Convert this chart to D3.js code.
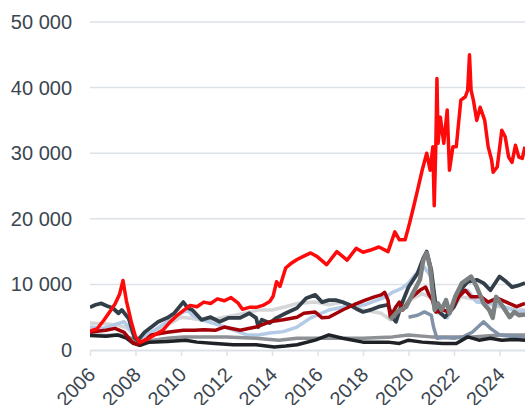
<!doctype html>
<html lang="en">
<head>
<meta charset="utf-8">
<style>
  body { margin: 0; background: #fff; }
  text { font-family: "Liberation Sans", Arial, sans-serif; fill: #3b4650; }
</style>
</head>
<body>
<div id="grafico"></div>
<script src="https://d3js.org/d3.v7.min.js"></script>
<script>

// each series: [year, value]
var rojo = [[2006.0,2900],[2006.3,3200],[2006.6,4500],[2006.9,6000],[2007.1,7000],[2007.3,8500],[2007.45,10600],[2007.6,7500],[2007.8,4500],[2008.0,2000],[2008.2,1200],[2008.5,1600],[2008.8,2200],[2009.2,3000],[2009.5,4200],[2009.8,5200],[2010.1,6000],[2010.4,6800],[2010.7,6600],[2011.0,7300],[2011.3,7100],[2011.6,7800],[2011.9,7500],[2012.2,8000],[2012.5,7200],[2012.7,6200],[2013.0,6500],[2013.3,6500],[2013.6,6800],[2013.9,7400],[2014.05,8200],[2014.2,10400],[2014.35,9700],[2014.6,12500],[2014.8,13100],[2015.1,13800],[2015.4,14300],[2015.7,14800],[2016.0,14200],[2016.4,13000],[2016.85,15000],[2017.3,13700],[2017.7,15500],[2018.0,14900],[2018.3,15200],[2018.7,15700],[2019.1,15000],[2019.4,18000],[2019.6,16800],[2019.85,16800],[2020.0,18700],[2020.2,21500],[2020.4,24400],[2020.6,27400],[2020.8,30000],[2020.95,27400],[2021.07,31000],[2021.13,22000],[2021.2,31000],[2021.25,41400],[2021.3,31500],[2021.4,35500],[2021.55,31500],[2021.7,36600],[2021.8,27400],[2021.95,31000],[2022.1,31000],[2022.3,38100],[2022.5,38600],[2022.6,39600],[2022.68,45000],[2022.75,39600],[2022.85,38100],[2023.0,35000],[2023.15,37000],[2023.35,35000],[2023.5,31000],[2023.65,29000],[2023.72,27100],[2023.9,27900],[2024.1,33500],[2024.25,32500],[2024.4,29400],[2024.55,28600],[2024.7,31200],[2024.85,29400],[2025.0,29200],[2025.12,31000]];

var azul_oscuro = [[2006.0,6500],[2006.25,6900],[2006.5,7100],[2006.75,6700],[2007.0,6400],[2007.25,5600],[2007.4,6100],[2007.7,4800],[2007.95,1900],[2008.1,1500],[2008.4,2700],[2008.7,3500],[2009.0,4300],[2009.4,4900],[2009.7,5600],[2010.1,7300],[2010.3,6400],[2010.5,6100],[2010.9,4600],[2011.3,5000],[2011.7,4300],[2012.1,4900],[2012.6,4900],[2013.0,5600],[2013.3,4900],[2013.4,3500],[2013.55,4600],[2013.9,4100],[2014.2,4900],[2014.6,5600],[2015.1,6400],[2015.5,7900],[2015.9,8400],[2016.2,7300],[2016.5,7600],[2016.8,7600],[2017.1,7300],[2017.4,6900],[2017.7,6300],[2018.0,5800],[2018.4,6200],[2018.7,6600],[2019.1,6900],[2019.3,4900],[2019.45,4300],[2019.7,7000],[2020.0,9600],[2020.4,11700],[2020.65,14000],[2020.8,15000],[2021.0,12200],[2021.2,6600],[2021.35,5800],[2021.6,5000],[2022.0,6600],[2022.4,9600],[2022.6,10400],[2023.0,10700],[2023.3,10200],[2023.6,9100],[2024.0,11200],[2024.3,10400],[2024.55,9600],[2024.8,9800],[2025.12,10200]];

var rojo_oscuro = [[2006.0,2700],[2006.4,2900],[2006.7,3000],[2007.1,3300],[2007.5,2700],[2007.85,1200],[2008.1,800],[2008.5,1700],[2008.7,2300],[2009.4,2700],[2010.1,3000],[2010.6,3000],[2011.0,3100],[2011.5,3000],[2011.9,3500],[2012.6,3000],[2013.3,3500],[2013.9,4300],[2014.5,4600],[2015.1,5000],[2015.4,5600],[2015.9,5800],[2016.2,4900],[2016.5,5000],[2017.1,6100],[2017.6,6900],[2018.1,7600],[2018.5,8100],[2018.8,8400],[2018.95,8800],[2019.1,7600],[2019.2,5000],[2019.45,6600],[2019.6,7300],[2019.75,6100],[2020.1,7900],[2020.5,9100],[2020.75,9600],[2020.9,8400],[2021.05,7600],[2021.2,5800],[2021.5,6100],[2021.8,5800],[2022.2,8100],[2022.5,9100],[2022.75,8100],[2023.2,8100],[2023.5,7300],[2023.9,7900],[2024.3,7300],[2024.75,6600],[2025.12,7100]];

var celeste = [[2006.0,3500],[2006.6,3300],[2007.0,3800],[2007.5,4300],[2007.8,3000],[2008.1,1500],[2008.7,2700],[2009.4,4300],[2010.0,5600],[2010.3,6100],[2010.5,5300],[2010.9,4600],[2011.5,4000],[2012.1,3300],[2012.9,2300],[2013.4,2300],[2013.9,2600],[2014.5,2800],[2015.1,3500],[2015.7,4900],[2016.5,6100],[2017.2,6600],[2018.1,6900],[2019.0,8100],[2019.3,8800],[2019.7,9400],[2020.0,10200],[2020.4,11900],[2020.7,12600],[2021.0,11100],[2021.25,6100],[2021.7,4900],[2022.2,8700],[2022.6,9100],[2023.0,7300],[2023.6,7100],[2024.2,6600],[2024.8,5800],[2025.12,6000]];

var gris_claro = [[2006.0,4100],[2006.6,4000],[2007.2,3800],[2007.6,3400],[2007.9,2500],[2008.15,1500],[2008.7,2500],[2009.4,3800],[2010.0,5000],[2010.5,4800],[2011.0,4500],[2011.6,4800],[2012.2,5200],[2012.8,5600],[2013.4,6100],[2014.0,6100],[2014.6,6600],[2015.1,7100],[2015.9,7300],[2016.5,6900],[2017.1,7300],[2018.0,6100],[2018.8,5600],[2019.2,4600],[2019.6,6600],[2020.0,7500],[2020.6,8600],[2021.0,8000],[2021.3,5600],[2021.7,5000],[2022.3,8100],[2022.8,7800],[2023.5,7000],[2024.0,6600],[2024.6,6300],[2025.12,6100]];

var gris_medio = [[2006.0,2300],[2006.7,2200],[2007.3,2300],[2007.8,1800],[2008.15,800],[2008.6,1400],[2009.4,1800],[2010.1,2000],[2011.0,2000],[2012.0,2000],[2013.3,1800],[2014.3,1500],[2015.1,1800],[2016.5,1800],[2018.0,1800],[2019.3,2000],[2020.0,2300],[2021.0,2000],[2022.0,2000],[2022.8,2000],[2024.0,2300],[2025.12,2300]];

var pizarra = [[2020.0,5000],[2020.4,5300],[2020.7,5800],[2021.0,5300],[2021.1,3500],[2021.25,1800],[2021.6,1900],[2022.0,1800],[2022.4,2000],[2022.8,2700],[2023.3,4300],[2023.6,3300],[2024.0,2300],[2024.5,2100],[2025.12,2000]];

var gris_oscuro = [[2019.2,4600],[2019.5,5800],[2019.9,6600],[2020.2,8700],[2020.5,10700],[2020.65,13700],[2020.8,14800],[2020.95,12600],[2021.05,9100],[2021.15,6100],[2021.3,7100],[2021.45,6100],[2021.65,7600],[2021.8,5600],[2022.05,8100],[2022.35,10200],[2022.75,11200],[2023.0,9600],[2023.3,7100],[2023.55,6100],[2023.7,4900],[2023.85,8100],[2024.15,6600],[2024.45,5000],[2024.65,5800],[2024.85,5300],[2025.12,5400]];

var negro = [[2006.0,2200],[2006.7,2100],[2007.2,2300],[2007.6,1800],[2007.9,1000],[2008.2,700],[2008.6,1200],[2009.4,1300],[2010.2,1500],[2010.7,1200],[2011.5,1000],[2012.3,800],[2013.3,800],[2014.1,450],[2014.6,600],[2015.1,800],[2015.9,1500],[2016.5,2300],[2017.1,1800],[2018.0,1200],[2019.1,1200],[2019.6,1000],[2020.0,1500],[2020.6,1200],[2021.5,1000],[2022.1,1000],[2022.6,2000],[2023.1,1500],[2023.6,1800],[2024.1,1500],[2024.7,1600],[2025.12,1500]];

var anios = [2006, 2008, 2010, 2012, 2014, 2016, 2018, 2020, 2022, 2024];
var valoresY = [0, 10000, 20000, 30000, 40000, 50000];

// orden de dibujo: de atras hacia adelante
var series = [
  {datos: gris_claro, color: "#d4d6d8", grosor: 3.5},
  {datos: celeste, color: "#b3cbe6", grosor: 3.5},
  {datos: gris_medio, color: "#8d9094", grosor: 3.5},
  {datos: pizarra, color: "#8192a8", grosor: 3.5},
  {datos: negro, color: "#1e2227", grosor: 3.5},
  {datos: azul_oscuro, color: "#323e48", grosor: 3.8},
  {datos: rojo_oscuro, color: "#a30008", grosor: 3.5},
  {datos: gris_oscuro, color: "#7d8080", grosor: 4.5},
  {datos: rojo, color: "#ff0a0a", grosor: 3.5}
];

var ancho = 525, alto = 405;
var margen = {izq: 90, der: 0, arriba: 22, abajo: 55};

var svg = d3.select("#grafico").append("svg").attr("width", ancho).attr("height", alto);

var x = d3.scaleLinear().domain([2006, 2025.12]).range([margen.izq, ancho - margen.der]);
var y = d3.scaleLinear().domain([0, 50000]).range([alto - margen.abajo, margen.arriba]);

var fmt = function(d){ return d3.format(",")(d).replace(/,/g, " "); };

// grilla
svg.append("g").selectAll("line").data(valoresY.filter(function(d){ return d > 0; })).enter().append("line")
  .attr("x1", margen.izq).attr("x2", ancho).attr("y1", function(d){ return y(d); }).attr("y2", function(d){ return y(d); })
  .attr("stroke", "#dde2e8").attr("stroke-width", 1.5);

// eje y
var ejeY = svg.append("g").attr("transform", "translate(" + margen.izq + ",0)")
  .call(d3.axisLeft(y).tickValues(valoresY).tickFormat(fmt).tickSize(0).tickPadding(18));
ejeY.select(".domain").remove();
ejeY.selectAll("text").style("font-size", "20px").attr("fill", "#3b4650");

// eje x
var ejeX = svg.append("g").attr("transform", "translate(0," + y(0) + ")")
  .call(d3.axisBottom(x).tickValues(anios).tickFormat(d3.format("d")).tickSize(6).tickSizeOuter(0));
ejeX.select(".domain").attr("stroke", "#dde2e8").attr("stroke-width", 2);
ejeX.selectAll(".tick line").attr("stroke", "#dde2e8").attr("stroke-width", 1.5);
ejeX.selectAll("text").style("font-size", "20px").attr("fill", "#3b4650")
  .attr("text-anchor", "end").attr("y", 0).attr("dy", 0)
  .attr("transform", "translate(6,26) rotate(-45)");

svg.append("clipPath").attr("id", "recorte").append("rect")
  .attr("x", margen.izq).attr("y", 0).attr("width", ancho - margen.izq).attr("height", alto);

var linea = d3.line().x(function(d){ return x(d[0]); }).y(function(d){ return y(d[1]); });

svg.append("g").attr("clip-path", "url(#recorte)").selectAll("path").data(series).enter().append("path")
  .attr("d", function(s){ return linea(s.datos); })
  .attr("fill", "none")
  .attr("stroke", function(s){ return s.color; })
  .attr("stroke-width", function(s){ return s.grosor; })
  .attr("stroke-linejoin", "round");

</script>
</body>
</html>
